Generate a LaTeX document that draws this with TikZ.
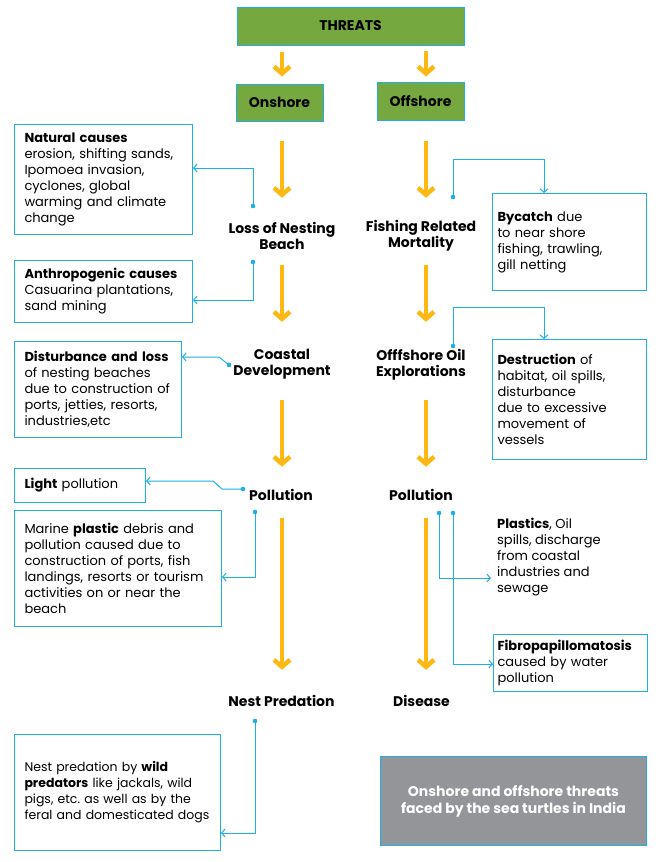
\documentclass[tikz,border=0pt]{standalone}
\usepackage{fontspec}
\setmainfont{Poppins}
\usetikzlibrary{arrows.meta}
\definecolor{leaf}{RGB}{118,168,64}
\definecolor{sky}{RGB}{30,175,230}
\definecolor{amber}{RGB}{253,185,19}
\definecolor{slate}{RGB}{147,149,152}
\frenchspacing
\tikzset{
  head/.style={draw=sky, fill=leaf, line width=1pt,
    font=\fontsize{14}{16}\selectfont\bfseries, inner sep=0pt},
  stage/.style={font=\fontsize{14}{16}\selectfont\bfseries,
    align=center, inner sep=0pt, minimum height=36pt},
  cause/.style={draw=sky, line width=1pt, anchor=north west, align=left,
    font=\fontsize{13}{16}\selectfont, inner ysep=0pt, inner xsep=10pt},
  flow/.style={amber, line width=4.5pt, -{Straight Barb[length=7pt,width=16pt]}},
  link/.style={sky, line width=1pt, -{Straight Barb[length=3.5pt,width=8pt]}},
}
\begin{document}
\begin{tikzpicture}[x=1pt,y=-1pt]
            \path[fill=white,use as bounding box] (0,0) rectangle (659,862);
            \coordinate (xl) at (282,0);
            \coordinate (xr) at (426,0);
            \node[head, minimum width=227pt, minimum height=38pt] (threats) at (350.5,26) {THREATS};
            \node[head, minimum width=87pt, minimum height=37pt] (onshore) at (279.5,102.5) {Onshore};
            \node[head, minimum width=87pt, minimum height=38pt] (offshore) at (420.5,101) {Offshore};
            \node[stage] (lnb) at (282,235.5) {Loss of Nesting\\Beach};
            \node[stage] (coastal) at (282,364.5) {Coastal\\Development};
            \node[stage] (pollL) at (281,495) {Pollution};
            \node[stage] (nest) at (281.5,701) {Nest Predation};
            \node[stage] (fishing) at (421,235.5) {Fishing Related\\Mortality};
            \node[stage] (oil) at (421,364.5) {Offfshore Oil\\Explorations};
            \node[stage] (pollR) at (421,495) {Pollution};
            \node[stage] (disease) at (421.5,701) {Disease};
            \node[cause, text width=158pt, minimum height=110pt] (natural) at (14,124)
                {\textbf{Natural causes}\\erosion, shifting sands,\\Ipomoea invasion,\\cyclones, global\\warming and climate\\change};
            \node[cause, text width=158pt, minimum height=62pt] (anthro) at (14,260)
                {\textbf{Anthropogenic causes}\\Casuarina plantations,\\sand mining};
            \node[cause, text width=147pt, minimum height=96pt] (disturb) at (14,341)
                {\textbf{Disturbance and loss}\\of nesting beaches\\due to construction of\\ports, jetties, resorts,\\industries,etc};
            \node[cause, text width=111pt, minimum height=34pt] (light) at (14,468)
                {\textbf{Light} pollution};
            \node[cause, text width=187pt, minimum height=116pt] (marine) at (14,510)
                {Marine \textbf{plastic} debris and\\pollution caused due to\\construction of ports, fish\\landings, resorts or tourism\\activities on or near the\\beach};
            \node[cause, text width=186pt, minimum height=116pt, font=\fontsize{12.5}{16}\selectfont] (nestbox) at (14,734)
                {\mbox{Nest predation by \textbf{wild}}\\\mbox{\textbf{predators} like jackals, wild}\\\mbox{pigs, etc. as well as by the}\\\mbox{feral and domesticated dogs}};
            \node[cause, text width=144pt, inner xsep=5pt, minimum height=97pt] (bycatch) at (492,193)
                {\textbf{Bycatch} due\\to near shore\\fishing, trawling,\\gill netting};
            \node[cause, text width=144pt, inner xsep=5pt, minimum height=120pt] (destruct) at (492,339)
                {\textbf{Destruction} of\\habitat, oil spills,\\disturbance\\due to excessive\\movement of\\vessels};
            \node[anchor=west, align=left, font=\fontsize{13}{16}\selectfont, inner sep=0pt, inner xsep=6pt] (plastics) at (491,557)
                {\textbf{Plastics}, Oil\\spills, discharge\\from coastal\\industries and\\sewage};
            \node[cause, text width=146pt, inner xsep=4pt, minimum height=57pt] (fibro) at (493,634)
                {\textbf{Fibropapillomatosis}\\caused by water\\pollution};
            \node[draw=sky, line width=1pt, fill=slate, text=white, anchor=north west, align=center,
                font=\fontsize{14}{17}\selectfont\bfseries, minimum width=266pt, minimum height=89pt] (note) at (380,756)
                {Onshore and offshore threats\\faced by the sea turtles in India};
            \draw[flow, shorten <=6pt, shorten >=7pt] (threats.south -| xl) -- (onshore.north -| xl);
            \draw[flow, shorten <=5pt, shorten >=5pt] (threats.south -| xr) -- (offshore.north -| xr);
            \foreach \a/\b/\s/\e/\c in {onshore/lnb/19pt/19.5pt/xl, lnb/coastal/11.5pt/24.5pt/xl,
                coastal/pollL/17.5pt/10pt/xl, pollL/nest/5pt/13pt/xl,
                offshore/fishing/20pt/19.5pt/xr, fishing/oil/11.5pt/24.5pt/xr,
                oil/pollR/17.5pt/10pt/xr, pollR/disease/5pt/13pt/xr}
                {\draw[flow, shorten <=\s, shorten >=\e] (\a.south -| \c) -- (\b.north -| \c);}
            \coordinate (d1) at (253,206);
            \coordinate (d2) at (253,262);
            \coordinate (d3) at (229,365);
            \coordinate (d4) at (243,489);
            \coordinate (d5) at (255,512);
            \coordinate (d6) at (255,721);
            \coordinate (d7) at (453,197);
            \coordinate (d8) at (453,346);
            \coordinate (d9) at (439,513);
            \coordinate (d10) at (453,513);
            \draw[link] (d1) |- (natural.east |- 0,168);
            \draw[link] (d2) |- (anthro.east |- 0,300);
            \draw[link] (d3) -- (219,357) -- (disturb.east |- 0,357);
            \draw[link] (d4) -- (222,489) -- (213,481) -- (light.east |- 0,481);
            \draw[link] (d5) |- (marine.east |- 0,577);
            \draw[link] (d6) |- (nestbox.east |- 0,833);
            \draw[link] (d7) -- (d7 |- 0,159) -| (bycatch.north -| 544,0);
            \draw[link] (d8) -- (d8 |- 0,307) -| (destruct.north -| 544,0);
            \draw[link] (d9) |- (plastics.west |- 0,578);
            \draw[link] (d10) |- (fibro.west |- 0,664);
            \foreach \d in {d1,d2,d3,d4,d5,d6,d7,d8,d9,d10}
                {\fill[sky] (\d) circle (2.3pt);}
\end{tikzpicture}
\end{document}
